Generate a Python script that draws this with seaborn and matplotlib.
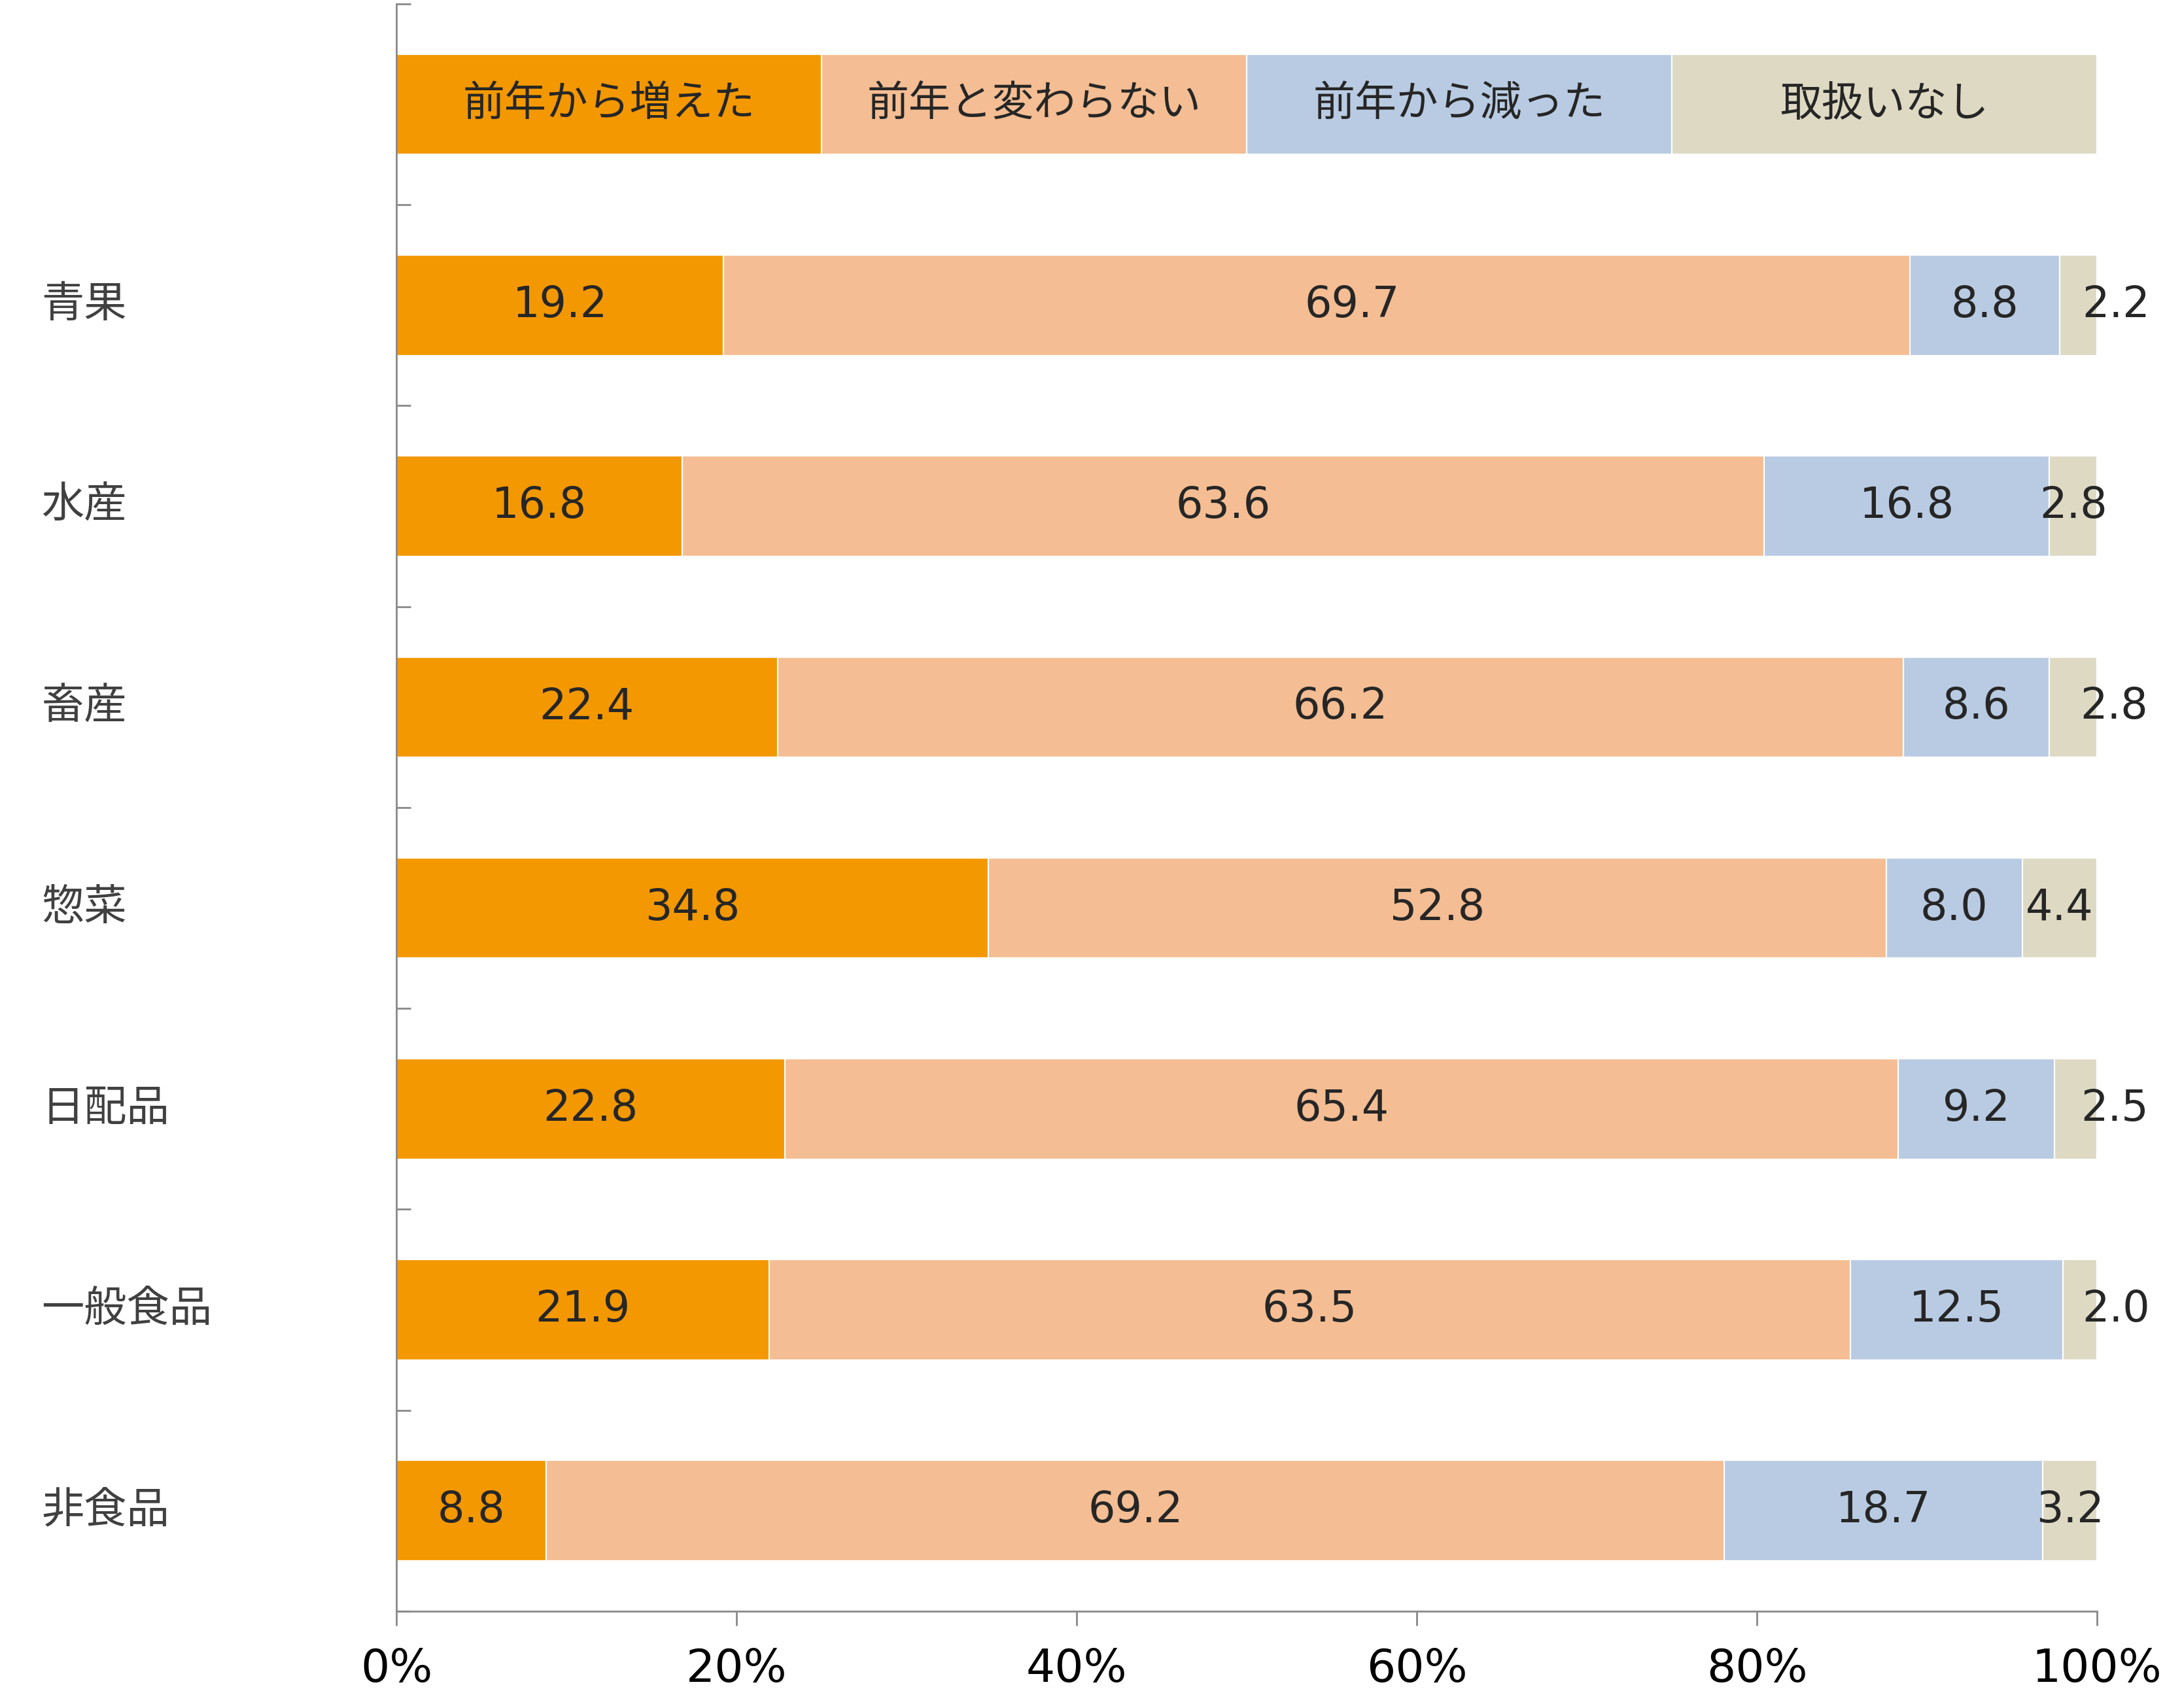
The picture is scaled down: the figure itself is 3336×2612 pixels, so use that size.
import matplotlib
matplotlib.use("Agg")
import matplotlib.pyplot as plt
import matplotlib.transforms as mtransforms
import numpy as np
import pandas as pd
import seaborn as sns

# --- dados ---
categorias = ['青果', '水産', '畜産', '惣菜', '日配品', '一般食品', '非食品']
series = ['前年から増えた', '前年と変わらない', '前年から減った', '取扱いなし']
aumentou = [19.2, 16.8, 22.4, 34.8, 22.8, 21.9, 8.8]
igual = [69.7, 63.6, 66.2, 52.8, 65.4, 63.5, 69.2]
diminuiu = [8.8, 16.8, 8.6, 8.0, 9.2, 12.5, 18.7]
sem_item = [2.2, 2.8, 2.8, 4.4, 2.5, 2.0, 3.2]
legenda_partes = [25, 25, 25, 25]  # linha de legenda no topo
ticks_x = [0, 20, 40, 60, 80, 100]

cores = ['#F39800', '#F4BD93', '#B9CBE2', '#DDD9C3']
# rótulos que foram deslocados à mão no original: (categoria, série) -> deslocamento
deslocar = {('青果', 3): 2.2, ('畜産', 3): 2.4, ('日配品', 3): 2.3,
            ('一般食品', 3): 2.1, ('青果', 1): 2.1}

FONTE = ['DejaVu Sans', 'Noto Sans CJK JP']


def main():
    sns.set_theme(style="white")
    plt.rcParams['font.family'] = FONTE

    valores = np.array([aumentou, igual, diminuiu, sem_item], dtype=float).T
    valores = valores / valores.sum(axis=1, keepdims=True) * 100  # 100% empilhado
    linhas = ['凡例'] + categorias
    tabela = np.vstack([np.array(legenda_partes, dtype=float), valores])
    acumulado = np.cumsum(tabela, axis=1)

    df = pd.DataFrame(acumulado, columns=series)
    df['linha'] = linhas

    fig = plt.figure(figsize=(16.68, 13.06), dpi=200)
    ax = fig.add_axes([0.1817, 0.0567, 0.9611 - 0.1817, 0.9977 - 0.0567])

    # barras acumuladas desenhadas da maior para a menor
    for j in reversed(range(len(series))):
        sns.barplot(data=df, x=series[j], y='linha', order=linhas, orient='h',
                    color=cores[j], saturation=1, width=0.5, errorbar=None,
                    edgecolor='white', linewidth=0.8, ax=ax)

    # rótulos de valores
    for i, nome in enumerate(linhas):
        inicio = 0.0
        for j in range(len(series)):
            v = tabela[i, j]
            centro = inicio + v / 2
            if i == 0:
                ax.text(centro, i, series[j], ha='center', va='center',
                        fontsize=23, color='#262626', family=FONTE)
            else:
                bruto = [aumentou, igual, diminuiu, sem_item][j][i - 1]
                centro += deslocar.get((nome, j), 0)
                ax.text(centro, i, f"{bruto:.1f}", ha='center', va='center',
                        fontsize=23.5, color='#262626', family=FONTE)
            inicio += v

    # nomes das categorias à esquerda
    trans = mtransforms.blended_transform_factory(fig.transFigure, ax.transData)
    for i, nome in enumerate(categorias, start=1):
        ax.text(0.019, i, nome, transform=trans, ha='left', va='center',
                fontsize=23.5, color='#404040', family=FONTE)

    ax.set_xlim(0, 100)
    ax.set_ylim(len(linhas) - 0.5, -0.5)
    ax.set_xticks(ticks_x)
    ax.set_xticklabels([f"{t}%" for t in ticks_x], fontsize=25, color='black')
    ax.set_yticks(np.arange(-0.5, len(linhas), 1.0))
    ax.set_yticklabels([])
    ax.set_xlabel('')
    ax.set_ylabel('')

    for lado in ['top', 'right']:
        ax.spines[lado].set_visible(False)
    for lado in ['left', 'bottom']:
        ax.spines[lado].set_color('#898989')
        ax.spines[lado].set_linewidth(1.0)

    ax.tick_params(axis='x', direction='out', length=8, width=1.0,
                   color='#898989', pad=12, bottom=True)
    ax.tick_params(axis='y', direction='in', length=8, width=1.0,
                   color='#898989', left=True)
    ax.grid(False)

    fig.savefig('out.png', dpi=200)
    plt.close(fig)


if __name__ == "__main__":
    main()
